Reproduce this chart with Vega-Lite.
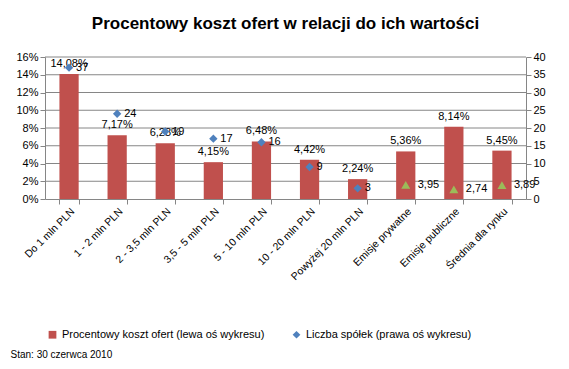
{
  "$schema": "https://vega.github.io/schema/vega-lite/v6.json",
  "width": 481,
  "height": 142,
  "autosize": "none",
  "padding": {"left": 45, "top": 57, "right": 43, "bottom": 170},
  "background": "white",
  "config": {
    "locale": {"number": {"decimal": ",", "thousands": " ", "grouping": [3], "currency": ["", " zł"]}},
    "font": "Liberation Sans",
    "view": {"stroke": null},
    "axis": {
      "labelFont": "Liberation Sans",
      "labelFontSize": 11,
      "labelColor": "#000000",
      "domainColor": "#868686",
      "tickColor": "#868686",
      "labelOverlap": false,
      "labelFlush": false,
      "grid": false
    },
    "text": {"font": "Liberation Sans", "fontSize": 11, "color": "#000000"}
  },
  "title": {
    "text": "Procentowy koszt ofert w relacji do ich wartości",
    "fontSize": 17,
    "fontWeight": "bold",
    "color": "#000000",
    "offset": 18
  },
  "datasets": {
    "dane": [
      {"kategoria": "Do 1 mln PLN", "koszt": 0.1408, "spolki": 37},
      {"kategoria": "1 - 2 mln PLN", "koszt": 0.0717, "spolki": 24},
      {"kategoria": "2 - 3,5 mln PLN", "koszt": 0.0628, "spolki": 19},
      {"kategoria": "3,5 - 5 mln PLN", "koszt": 0.0415, "spolki": 17},
      {"kategoria": "5 - 10 mln PLN", "koszt": 0.0648, "spolki": 16},
      {"kategoria": "10 - 20 mln PLN", "koszt": 0.0442, "spolki": 9},
      {"kategoria": "Powyżej 20 mln PLN", "koszt": 0.0224, "spolki": 3},
      {"kategoria": "Emisje prywatne", "koszt": 0.0536, "srednia": 3.95},
      {"kategoria": "Emisje publiczne", "koszt": 0.0814, "srednia": 2.74},
      {"kategoria": "Średnia dla rynku", "koszt": 0.0545, "srednia": 3.89}
    ],
    "siatka": [
      {"poziom": 0.02}, {"poziom": 0.04}, {"poziom": 0.06}, {"poziom": 0.08},
      {"poziom": 0.1}, {"poziom": 0.12}, {"poziom": 0.14}, {"poziom": 0.16}
    ]
  },
  "data": {"name": "dane"},
  "layer": [
    {
      "layer": [
        {
          "data": {"name": "siatka"},
          "mark": {"type": "rule", "color": "#868686", "strokeWidth": 1},
          "encoding": {
            "y": {
              "field": "poziom",
              "type": "quantitative",
              "scale": {"domain": [0, 0.16], "nice": false},
              "axis": {
                "values": [0, 0.02, 0.04, 0.06, 0.08, 0.1, 0.12, 0.14, 0.16],
                "tickCount": 9,
                "format": ".0%",
                "title": null,
                "tickSize": 5
              }
            }
          }
        },
        {
          "mark": {"type": "bar"},
          "encoding": {
            "x": {
              "field": "kategoria",
              "type": "nominal",
              "sort": null,
              "scale": {"paddingInner": 0.6, "paddingOuter": 0.3},
              "axis": {
                "labelAngle": -45,
                "tickBand": "extent",
                "tickSize": 5,
                "labelPadding": 2,
                "labelFontSize": 10.5,
                "title": "Stan: 30 czerwca 2010",
                "titleAnchor": "start",
                "titleAlign": "left",
                "titleBaseline": "alphabetic",
                "titleX": -35,
                "titleY": 158,
                "titleFontSize": 10,
                "titleFontWeight": "normal",
                "titleColor": "#000000"
              }
            },
            "y": {
              "field": "koszt",
              "type": "quantitative",
              "axis": {
                "values": [0, 0.02, 0.04, 0.06, 0.08, 0.1, 0.12, 0.14, 0.16],
                "tickCount": 9,
                "format": ".0%",
                "title": null,
                "tickSize": 5
              }
            },
            "color": {
              "datum": "Procentowy koszt ofert (lewa oś wykresu)",
              "type": "nominal",
              "scale": {
                "domain": ["Procentowy koszt ofert (lewa oś wykresu)", "Liczba spółek (prawa oś wykresu)"],
                "range": ["#C0504D", "#4F81BD"]
              },
              "legend": {
                "title": null,
                "orient": "none",
                "direction": "horizontal",
                "legendX": 2,
                "legendY": 272,
                "columnPadding": 26,
                "symbolSize": 60,
                "labelFontSize": 11,
                "labelLimit": 400,
                "labelColor": "#000000",
                "labelFont": "Liberation Sans",
                "encode": {
                  "symbols": {
                    "update": {
                      "shape": {"signal": "datum.value === 'Liczba spółek (prawa oś wykresu)' ? 'diamond' : 'square'"},
                      "strokeWidth": {"value": 0}
                    }
                  }
                }
              }
            }
          }
        },
        {
          "mark": {"type": "text", "baseline": "bottom", "dy": -5},
          "encoding": {
            "x": {"field": "kategoria", "type": "nominal", "sort": null},
            "y": {
              "field": "koszt",
              "type": "quantitative",
              "axis": {
                "values": [0, 0.02, 0.04, 0.06, 0.08, 0.1, 0.12, 0.14, 0.16],
                "tickCount": 9,
                "format": ".0%",
                "title": null,
                "tickSize": 5
              }
            },
            "text": {"field": "koszt", "type": "quantitative", "format": ".2%"}
          }
        }
      ]
    },
    {
      "layer": [
        {
          "transform": [{"filter": "isValid(datum.spolki)"}],
          "mark": {"type": "point", "shape": "diamond", "filled": true, "size": 70, "opacity": 1},
          "encoding": {
            "x": {"field": "kategoria", "type": "nominal", "sort": null},
            "y": {
              "field": "spolki",
              "type": "quantitative",
              "scale": {"domain": [0, 40], "nice": false},
              "axis": {
                "orient": "right",
                "values": [0, 5, 10, 15, 20, 25, 30, 35, 40],
                "tickCount": 9,
                "title": null,
                "tickSize": 5
              }
            },
            "color": {"datum": "Liczba spółek (prawa oś wykresu)", "type": "nominal"}
          }
        },
        {
          "transform": [{"filter": "isValid(datum.spolki)"}],
          "mark": {"type": "text", "align": "left", "baseline": "middle", "dx": 7},
          "encoding": {
            "x": {"field": "kategoria", "type": "nominal", "sort": null},
            "y": {
              "field": "spolki",
              "type": "quantitative",
              "axis": {
                "orient": "right",
                "values": [0, 5, 10, 15, 20, 25, 30, 35, 40],
                "tickCount": 9,
                "title": null,
                "tickSize": 5
              }
            },
            "text": {"field": "spolki", "type": "quantitative"}
          }
        },
        {
          "transform": [{"filter": "isValid(datum.srednia)"}],
          "mark": {"type": "point", "shape": "triangle-up", "filled": true, "size": 80, "color": "#9BBB59", "opacity": 1},
          "encoding": {
            "x": {"field": "kategoria", "type": "nominal", "sort": null},
            "y": {
              "field": "srednia",
              "type": "quantitative",
              "axis": {
                "orient": "right",
                "values": [0, 5, 10, 15, 20, 25, 30, 35, 40],
                "tickCount": 9,
                "title": null,
                "tickSize": 5
              }
            }
          }
        },
        {
          "transform": [{"filter": "isValid(datum.srednia)"}],
          "mark": {"type": "text", "align": "left", "baseline": "middle", "dx": 12},
          "encoding": {
            "x": {"field": "kategoria", "type": "nominal", "sort": null},
            "y": {
              "field": "srednia",
              "type": "quantitative",
              "axis": {
                "orient": "right",
                "values": [0, 5, 10, 15, 20, 25, 30, 35, 40],
                "tickCount": 9,
                "title": null,
                "tickSize": 5
              }
            },
            "text": {"field": "srednia", "type": "quantitative", "format": ".2f"}
          }
        }
      ]
    }
  ],
  "resolve": {"scale": {"y": "independent"}}
}
